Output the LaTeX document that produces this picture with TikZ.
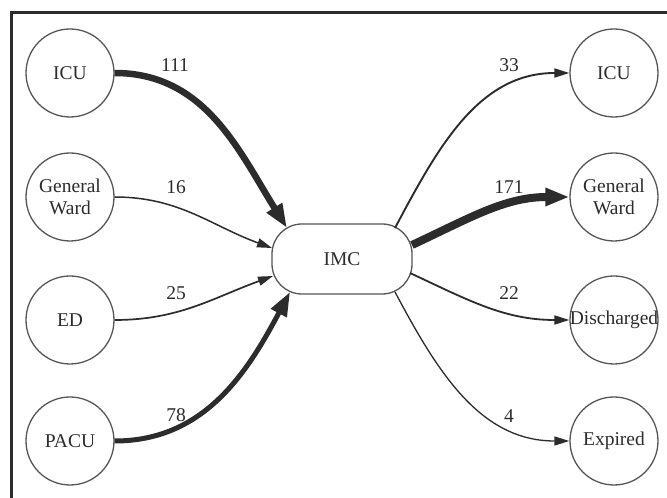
\documentclass[tikz,border=0pt]{standalone}
\usepackage{fontspec}
\setmainfont{Liberation Serif}
\usetikzlibrary{arrows.meta}
\definecolor{ink}{HTML}{2C2C2C}
\definecolor{rim}{HTML}{565656}
\begin{document}
\begin{tikzpicture}[x=1pt,y=1pt,
  txt/.style={font=\fontsize{19.5}{22}\selectfont,text=ink},
  unit/.style={circle,draw=rim,line width=1.3pt,minimum size=88pt,inner sep=0pt,align=center,txt},
  hub/.style={draw=rim,line width=1.3pt,rounded corners=30pt,minimum width=140pt,minimum height=70pt,inner sep=0pt,txt},
  flow/.style={draw=ink,line width=#1},
  narrowtip/.style={-{Triangle[length=15pt,width=9pt]}},
  widetip/.style={-{Triangle[length=24pt,width=17pt]}},
  count/.style={txt,inner sep=0pt}
]
\useasboundingbox (0,0) rectangle (667,498);
\fill[white] (0,0) rectangle (667,498);

% frame (left and top edges only)
\draw[ink,line width=3pt] (11,0) -- (11,485) -- (667,485);

% sources
\node[unit] (srcICU)  at (70,425) {ICU};
\node[unit] (srcGW)   at (70,301) {General\\Ward};
\node[unit] (srcED)   at (70,178) {ED};
\node[unit] (srcPACU) at (70,57)  {PACU};

% intermediate care
\node[hub] (IMC) at (342,239) {IMC};

% destinations
\node[unit] (dstICU) at (614,425) {ICU};
\node[unit] (dstGW)  at (614,301) {General\\Ward};
\node[unit] (dstDis) at (614,178) {\makebox[0pt]{Discharged}};
\node[unit] (dstExp) at (614,57)  {Expired};

% inflows
\draw[flow=6.5pt,widetip] (srcICU.east) to[out=0,in=122] ([shift={(-55,31)}]IMC.center);
\draw[flow=1.5pt,narrowtip] (srcGW.east) to[out=0,in=160] ([shift={(-70,11)}]IMC.center);
\draw[flow=1.7pt,narrowtip] (srcED.east) to[out=0,in=200] ([shift={(-69,-17)}]IMC.center);
\draw[flow=5pt,widetip] (srcPACU.east) to[out=0,in=-118] ([shift={(-52,-33)}]IMC.center);

% outflows
\draw[flow=1.9pt,narrowtip] ([shift={(53,31)}]IMC.center) to[out=62,in=180] (dstICU.west);
\draw[flow=8pt,widetip] ([shift={(70,14)}]IMC.center) to[out=25,in=180] (dstGW.west);
\draw[flow=1.8pt,narrowtip] ([shift={(68,-14)}]IMC.center) to[out=-25,in=180] (dstDis.west);
\draw[flow=1.3pt,narrowtip] ([shift={(53,-33)}]IMC.center) to[out=-62,in=180] (dstExp.west);

% counts
\node[count] (n111) at (175,433) {111};
\node[count] (n16)  at (176,311) {16};
\node[count] (n25)  at (176,205) {25};
\node[count] (n78)  at (176,83)  {78};
\node[count] (n33)  at (509,433) {33};
\node[count] (n171) at (509,311) {171};
\node[count] (n22)  at (509,205) {22};
\node[count] (n4)   at (509,82)  {4};
\end{tikzpicture}
\end{document}
